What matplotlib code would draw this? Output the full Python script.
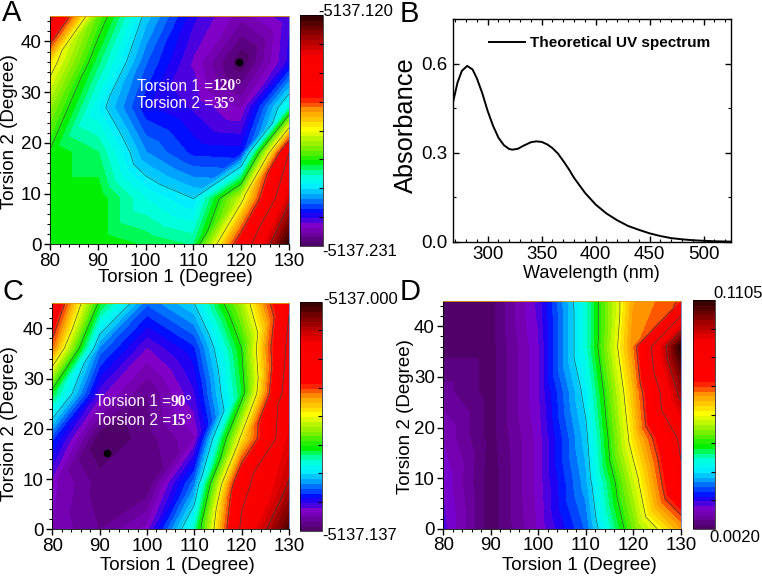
import numpy as np
import matplotlib
matplotlib.use("Agg")
import matplotlib.pyplot as plt
from matplotlib.colors import LinearSegmentedColormap
from matplotlib.ticker import MultipleLocator
from matplotlib.tri import Triangulation

plt.rcParams['font.family'] = ['Liberation Sans', 'DejaVu Sans']

W, H = 762, 576
torsion1 = [80, 90, 100, 110, 120, 130]
torsion2 = [0, 9, 18, 27, 36, 45]

# Values read as position along each panel's colour bar (rows: torsion2, columns: torsion1)
frac_a = [[.37, .37, .35, .33, .68, 1.0],
          [.37, .37, .29, .25, .48, .86],
          [.37, .335, .21, .16, .155, .75],
          [.44, .27, .15, .12, .08, .30],
          [.53, .34, .19, .10, .00, .13],
          [.78, .41, .24, .13, .07, .12]]
frac_c = [[.08, .04, .09, .31, .77, .97],
          [.09, .03, .02, .20, .72, .88],
          [.17, .00, .03, .08, .52, .84],
          [.35, .11, .04, .12, .35, .82],
          [.60, .20, .10, .16, .375, .78],
          [.72, .36, .19, .25, .45, .74]]
frac_d = [[.11, .005, .085, .19, .42, .58],
          [.10, .005, .09, .22, .47, .73],
          [.08, .01, .09, .24, .53, .77],
          [.05, .01, .10, .265, .56, .90],
          [.01, .01, .10, .30, .60, 1.0],
          [.01, .01, .11, .30, .58, .63]]
range_a = (-5137.231, -5137.120)
range_c = (-5137.137, -5137.000)
range_d = (0.0020, 0.1105)
labels_a = ("-5137.231", "-5137.120")
labels_c = ("-5137.137", "-5137.000")
labels_d = ("0.0020", "0.1105")
min_a = (119.5, 36)
min_c = (91.5, 15.2)

wavelength = [267.6, 272, 276, 281, 286, 290, 295, 300, 305, 310, 315, 320, 323, 328, 333, 340, 345, 350, 355, 360,
              365, 370, 375, 380, 385, 390, 395, 400, 410, 420, 430, 440, 450, 460, 470, 480, 490, 500, 510, 525]
absorbance = [.465, .535, .575, .592, .58, .55, .50, .44, .39, .35, .325, .312, .31, .313, .323, .335, .338, .336, .328, .315,
              .297, .272, .245, .215, .19, .165, .145, .125, .095, .072, .053, .04, .028, .019, .012, .008, .005, .003, .0015, .0003]

cmap = LinearSegmentedColormap.from_list("rb", [
    (0.00, "#4a0060"), (0.09, "#8000c8"), (0.147, "#0000ff"), (0.21, "#0090ff"), (0.26, "#00f0ff"), (0.30, "#00ffe0"),
    (0.335, "#00ff80"), (0.365, "#00f000"), (0.44, "#90f000"), (0.51, "#ffff00"), (0.59, "#ff9800"), (0.65, "#ff0000"),
    (0.83, "#f80000"), (0.92, "#900000"), (1.00, "#300000")])


def box(x0, y0, x1, y1):
    return fig.add_axes([x0 / W, 1 - y1 / H, (x1 - x0) / W, (y1 - y0) / H])


def place_labels(ax, rect, xc, ylab_pos):
    x0, y0, x1, y1 = rect
    w, h = x1 - x0, y1 - y0
    ax.xaxis.set_label_coords((xc[0] - x0) / w, (y1 - xc[1]) / h)
    ax.yaxis.set_label_coords((ylab_pos[0] - x0) / w, (y1 - ylab_pos[1]) / h)
    ax.xaxis.label.set_va('center')
    ax.yaxis.label.set_va('center')


fig = plt.figure(figsize=(W / 100, H / 100), dpi=100)
line_levels = [.25, .375, .5, .625, .75, .875]


def surface(rect, crect, frac, rng, xc, ylab, minimum=None):
    ax = box(*rect)
    vmin, vmax = rng
    X, Y = np.meshgrid(torsion1, torsion2)
    Z = vmin + np.array(frac) * (vmax - vmin)
    nx, ny = len(torsion1), len(torsion2)
    cells = []
    for j in range(ny - 1):
        for i in range(nx - 1):
            a = j * nx + i
            cells += [[a, a + 1, a + nx + 1], [a, a + nx + 1, a + nx]]
    tri = Triangulation(X.ravel(), Y.ravel(), cells)
    levels = np.linspace(vmin, vmax, 49)
    cf = ax.tricontourf(tri, Z.ravel(), levels=levels, cmap=cmap, vmin=vmin, vmax=vmax)
    cf.set_edgecolor('face')
    cf.set_linewidth(0.4)
    ax.tricontour(tri, Z.ravel(), levels=[vmin + l * (vmax - vmin) for l in line_levels],
                  colors="#304848", linewidths=0.45, linestyles='solid')
    ax.set_xlim(80, 130)
    ax.set_ylim(0, 45)
    ax.xaxis.set_major_locator(MultipleLocator(10))
    ax.xaxis.set_minor_locator(MultipleLocator(2))
    ax.yaxis.set_major_locator(MultipleLocator(10))
    ax.yaxis.set_minor_locator(MultipleLocator(2))
    ax.tick_params(axis='both', which='major', labelsize=13.5, length=4, width=1, pad=2)
    ax.tick_params(axis='both', which='minor', length=2, width=0.8)
    for s in ax.spines.values():
        s.set_linewidth(0.6)
    ax.spines['top'].set_color('#e0a000')
    ax.spines['right'].set_color('#6080c0')
    ax.set_xlabel("Torsion 1 (Degree)", fontsize=13.5)
    ax.set_ylabel("Torsion 2 (Degree)", fontsize=13.5)
    place_labels(ax, rect, xc, ylab)
    if minimum is not None:
        ax.plot(*minimum, 'o', color='k', ms=4.5)
    cax = box(*crect)
    cb = fig.colorbar(cf, cax=cax, spacing='proportional', drawedges=False)
    for c in cax.collections:
        c.set_edgecolor('face')
        c.set_linewidth(0.4)
    cb.set_ticks(np.linspace(vmin, vmax, 9)[1:-1])
    cb.ax.tick_params(length=3, width=0.8, direction='in', labelright=False, right=True)
    cb.outline.set_linewidth(0.5)
    return ax


def note(ax, x, ys, a, b):
    for yy, head, val in [(ys[0], "Torsion 1 =", a), (ys[1], "Torsion 2 =", b)]:
        t = ax.text(x, yy, head, color="#fff4ff", fontsize=11.2, va='center', family='Liberation Sans')
        fig.canvas.draw()
        bb = t.get_window_extent().transformed(ax.transData.inverted())
        ax.text(bb.x1, yy, val, color="#fff4ff", fontsize=11.2, va='center', family='Liberation Serif', weight='bold')


axA = surface((50, 16, 289, 244.3), (300, 15, 322.5, 246), frac_a, range_a, (175, 278), (10, 131.5), minimum=min_a)
axC = surface((52.3, 303.3, 289, 529.3), (300, 301.7, 322.3, 530.7), frac_c, range_c, (177, 565), (10, 424), minimum=min_c)
axD = surface((443.3, 301, 681, 528.7), (692.7, 300, 714.7, 529), frac_d, range_d, (579, 565), (406, 417))

note(axA, 98.2, (31.2, 27.7), "120°", "35°")
note(axC, 89, (25.4, 21.6), "90°", "15°")


def px_text(x, y, s, size, **kw):
    fig.text(x / W, 1 - y / H, s, fontsize=size, **kw)


for (x, y, s) in [(318, 11, labels_a[1]), (322, 251, labels_a[0]), (323, 299, labels_c[1]), (322, 535, labels_c[0]),
                  (713, 294, labels_d[1]), (709, 537, labels_d[0])]:
    px_text(x, y, s, 12, va='center', ha='left')

for (x, y, s) in [(2, 13, "A"), (400, 14, "B"), (2, 292, "C"), (400, 292, "D")]:
    px_text(x, y, s, 21, va='center', ha='left')

rectB = (452.7, 19, 731, 241.7)
axB = box(*rectB)
axB.plot(wavelength, absorbance, color='k', lw=1.4, label="Theoretical UV spectrum")
axB.set_xlim(267.6, 525.3)
axB.set_ylim(0, 0.75)
axB.xaxis.set_major_locator(MultipleLocator(50))
axB.xaxis.set_minor_locator(MultipleLocator(10))
axB.yaxis.set_major_locator(MultipleLocator(0.3))
axB.yaxis.set_minor_locator(MultipleLocator(0.15))
axB.tick_params(axis='both', which='major', direction='in', top=True, right=True, labelsize=13.5, length=4, width=1, pad=4)
axB.tick_params(axis='x', which='major', pad=3)
axB.tick_params(axis='both', which='minor', direction='in', top=True, right=True, length=2, width=0.8)
axB.set_xlabel("Wavelength (nm)", fontsize=13)
axB.set_ylabel("Absorbance", fontsize=18.3)
place_labels(axB, rectB, (591, 274), (406, 125))
for s in axB.spines.values():
    s.set_linewidth(1)
axB.legend(loc='center left', bbox_to_anchor=((486 - 452.7) / 278.3, (241.7 - 43) / 222.7), frameon=False,
           handlelength=2.35, handletextpad=0.3, prop={'size': 11, 'weight': 'bold'}, borderpad=0.2, borderaxespad=0)

fig.savefig("out.png", dpi=100)
